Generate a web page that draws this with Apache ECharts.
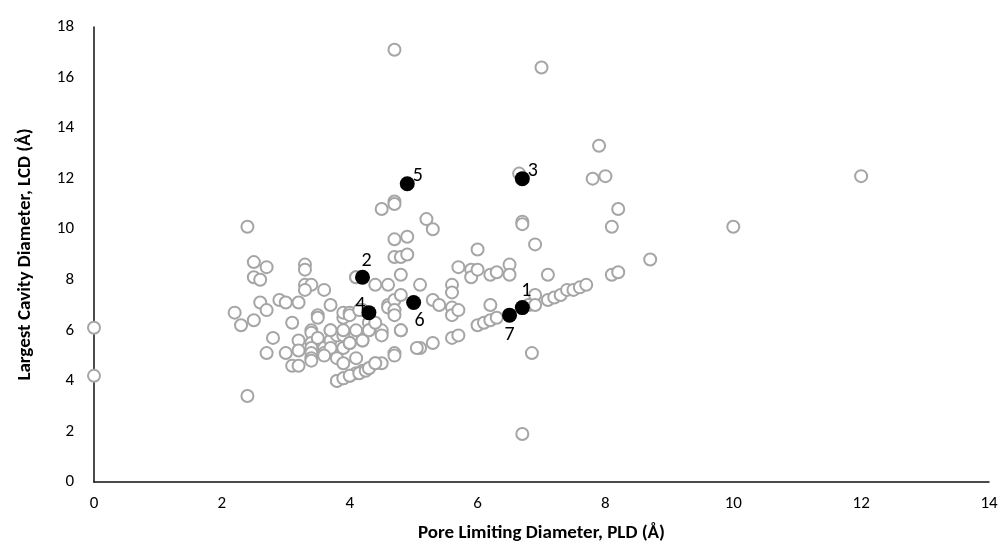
<!DOCTYPE html>
<html>
<head>
<meta charset="utf-8">
<script src="https://cdn.jsdelivr.net/npm/echarts@6/dist/echarts.min.js"></script>
<style>
  html, body { margin: 0; padding: 0; background: #fff; }
  #chart { width: 1003px; height: 558px; }
</style>
</head>
<body>
<div id="chart"></div>
<script>
// all structures (open grey circles)
var pld = [
  0, 0, 2.2, 2.3, 2.4, 2.4, 2.5, 2.5, 2.5, 2.6, 2.7, 2.6, 2.7, 2.7,
  2.8, 2.9, 3.0, 3.0, 3.1, 3.1, 3.2, 3.2, 3.2, 3.2,
  3.3, 3.3, 3.3, 3.4, 3.3,
  3.4, 3.4, 3.4, 3.4, 3.4, 3.4, 3.4,
  3.5, 3.5, 3.5, 3.6, 3.6, 3.6,
  3.7, 3.7, 3.7, 3.7,
  3.8, 3.8, 3.8,
  3.9, 3.9, 3.9, 3.9, 3.9, 3.9,
  4.0, 4.0, 4.0, 4.0,
  4.1, 4.1, 4.1, 4.1,
  4.2, 4.2, 4.2,
  4.3, 4.3, 4.3,
  4.4, 4.4, 4.4,
  4.5, 4.5, 4.5, 4.5,
  4.6, 4.6, 4.6,
  4.7, 4.7, 4.7, 4.7, 4.7, 4.7, 4.7, 4.7,
  4.8, 4.8, 4.8, 4.8,
  4.9, 4.9,
  5.1, 5.1,
  5.2, 5.3, 5.3, 5.3, 5.4,
  5.6, 5.6, 5.6, 5.6, 5.6, 5.7, 5.7, 5.7,
  5.9, 5.9, 6.0, 6.0, 6.0, 6.1, 6.2, 6.2, 6.2, 6.3, 6.3,
  6.5, 6.5,
  6.65, 6.7, 6.7, 6.7,
  6.8, 6.85,
  6.9, 6.9, 6.9,
  7.0,
  7.1, 7.1, 7.2, 7.3, 7.4, 7.5, 7.6, 7.7,
  7.8, 8.0, 7.9,
  8.1, 8.2, 8.1, 8.2, 8.7,
  10.0, 12.0,
  3.8, 3.9, 4.0, 4.15, 4.25, 4.3, 4.4,
  4.0, 4.2, 4.3, 4.4, 4.5, 4.7, 4.8, 5.05, 4.7,
  4.1, 4.15, 3.9, 3.7, 3.6
];
var lcd = [
  6.1, 4.2, 6.7, 6.2, 10.1, 3.4, 8.7, 8.1, 6.4, 8.0, 8.5, 7.1, 6.8, 5.1,
  5.7, 7.2, 7.1, 5.1, 6.3, 4.6, 7.1, 5.6, 5.2, 4.6,
  8.6, 8.4, 7.8, 7.8, 7.6,
  6.0, 5.9, 5.5, 5.3, 5.1, 4.9, 4.8,
  6.6, 6.5, 5.7, 7.6, 5.3, 5.1,
  7.0, 6.0, 5.6, 5.3,
  5.8, 4.9, 4.0,
  6.5, 6.7, 5.8, 5.3, 4.7, 4.1,
  6.7, 6.6, 5.5, 4.2,
  8.1, 6.0, 4.9, 4.3,
  6.8, 5.6, 4.4,
  6.3, 6.0, 4.5,
  7.8, 6.2, 4.7,
  10.8, 5.9, 4.7, 6.0,
  7.8, 7.0, 6.9,
  17.1, 11.1, 11.0, 9.6, 8.9, 7.2, 6.8, 5.1,
  8.9, 8.2, 7.4, 6.0,
  9.7, 9.0,
  7.8, 5.3,
  10.4, 10.0, 7.2, 5.5, 7.0,
  7.8, 7.5, 6.9, 6.6, 5.7, 6.8, 5.8, 8.5,
  8.4, 8.1, 9.2, 8.4, 6.2, 6.3, 8.2, 7.0, 6.4, 8.3, 6.5,
  8.6, 8.2,
  12.2, 10.3, 10.2, 1.9,
  7.0, 5.1,
  9.4, 7.4, 7.0,
  16.4,
  8.2, 7.2, 7.3, 7.4, 7.6, 7.6, 7.7, 7.8,
  12.0, 12.1, 13.3,
  10.1, 10.8, 8.2, 8.3, 8.8,
  10.1, 12.1,
  4.0, 4.1, 4.2, 4.3, 4.4, 4.5, 4.7,
  5.5, 5.6, 6.0, 6.3, 5.8, 6.6, 6.0, 5.3, 5.0,
  8.1, 6.8, 6.0, 6.0, 5.0
];

// highlighted structures
var selPld = [6.7, 4.2, 6.7, 4.3, 4.9, 5.0, 6.5];
var selLcd = [6.9, 8.1, 12.0, 6.7, 11.8, 7.1, 6.6];
var selNames = ['1', '2', '3', '4', '5', '6', '7'];
var selLabelPos = ['top', 'top', 'right', 'left', 'right', 'bottom', 'bottom'];

var xTicks = [0, 2, 4, 6, 8, 10, 12, 14];
var yTicks = [0, 2, 4, 6, 8, 10, 12, 14, 16, 18];

var font = 'Carlito, Lato, "Liberation Sans", sans-serif';

var allData = [];
for (var i = 0; i < pld.length; i++) {
  allData.push([pld[i], lcd[i]]);
}

var selData = [];
for (var j = 0; j < selPld.length; j++) {
  var pos = selLabelPos[j];
  var off = [0, 0];
  if (pos === 'top') off = [4, 4];
  if (pos === 'right') off = [-5, -8];
  if (pos === 'left') off = [7, -8];
  if (pos === 'bottom') off = [6, -2];
  if (j === 6) off = [0, -1];
  selData.push({
    value: [selPld[j], selLcd[j]],
    name: selNames[j],
    label: { position: pos, offset: off }
  });
}

var chart = echarts.init(document.getElementById('chart'));

var option = {
  animation: false,
  backgroundColor: '#fff',
  grid: { left: 94, right: 14, top: 27, bottom: 76 },
  xAxis: {
    type: 'value',
    min: xTicks[0],
    max: xTicks[xTicks.length - 1],
    interval: 2,
    name: 'Pore Limiting Diameter, PLD (Å)',
    nameLocation: 'middle',
    nameGap: 42,
    nameTextStyle: { fontFamily: font, fontSize: 19, fontWeight: 'bold', color: '#000' },
    axisLine: { lineStyle: { color: '#111', width: 1.5 } },
    axisTick: { show: false },
    splitLine: { show: false },
    axisLabel: { fontFamily: font, fontSize: 17, color: '#000', margin: 13 }
  },
  yAxis: {
    type: 'value',
    min: yTicks[0],
    max: yTicks[yTicks.length - 1],
    interval: 2,
    name: 'Largest Cavity Diameter, LCD (Å)',
    nameLocation: 'middle',
    nameGap: 59,
    nameTextStyle: { fontFamily: font, fontSize: 19, fontWeight: 'bold', color: '#000' },
    axisLine: { show: true, lineStyle: { color: '#111', width: 1.5 } },
    axisTick: { show: false },
    splitLine: { show: false },
    axisLabel: { fontFamily: font, fontSize: 17, color: '#000', margin: 20 }
  },
  series: [
    {
      type: 'scatter',
      data: allData,
      symbol: 'circle',
      symbolSize: 12,
      itemStyle: { color: '#fff', borderColor: '#a5a5a5', borderWidth: 2, opacity: 1 },
      z: 2
    },
    {
      type: 'scatter',
      data: selData,
      symbol: 'circle',
      symbolSize: 15,
      itemStyle: { color: '#000', opacity: 1 },
      label: {
        show: true,
        formatter: '{b}',
        fontFamily: font,
        fontSize: 20,
        color: '#000',
        distance: 3
      },
      z: 3
    }
  ]
};

chart.setOption(option);
</script>
</body>
</html>
